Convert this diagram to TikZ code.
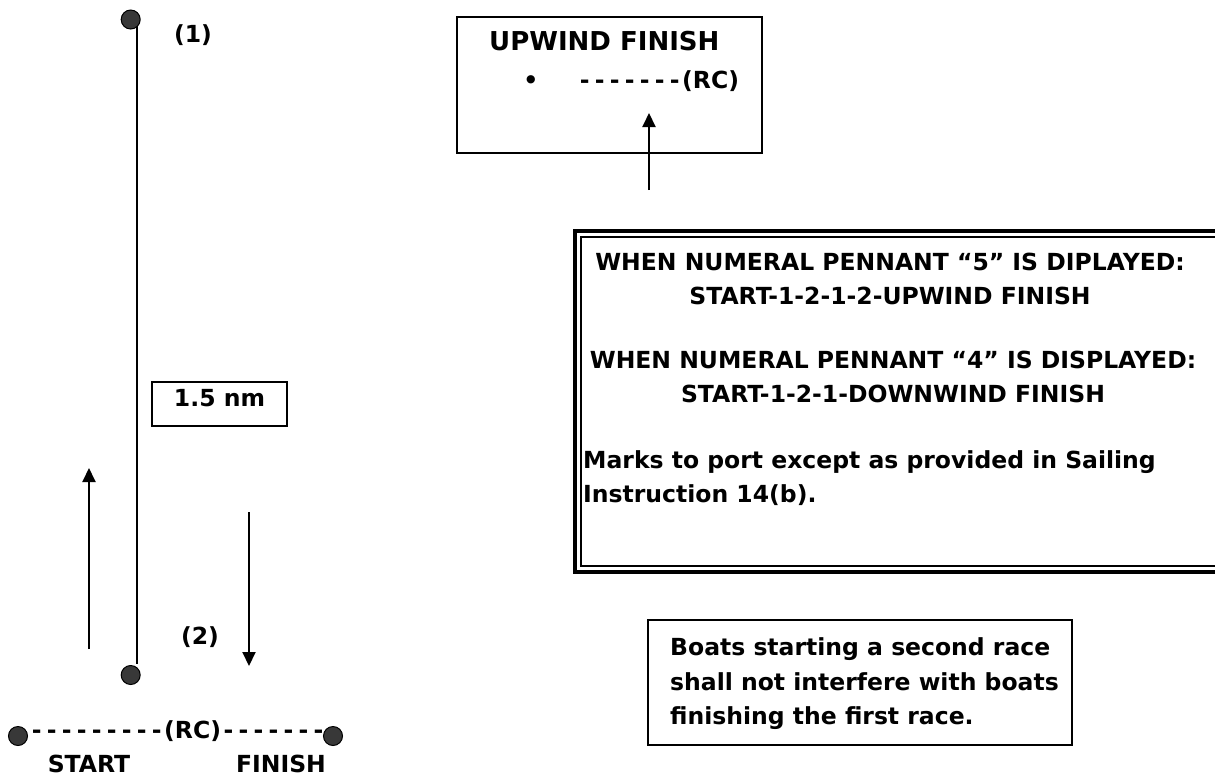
\documentclass[tikz,border=0pt]{standalone}
\usepackage{fontspec}
\setmainfont{DejaVu Sans}
\usetikzlibrary{arrows.meta}
\newcommand\myhy{\makebox[15pt]{-}}
\begin{document}
\begin{tikzpicture}[x=1pt,y=-1pt,
  dot/.style={circle, draw=black, fill=black!78, line width=1pt, minimum size=19pt, inner sep=0pt},
  lbl/.style={inner sep=0pt, text height=0.75em, text depth=0.25em, font=\bfseries\fontsize{23.5}{28}\selectfont},
  big/.style={inner sep=0pt, text height=0.75em, text depth=0.25em, font=\bfseries\fontsize{26}{30}\selectfont},
  frame/.style={draw=black, line width=2pt, inner sep=0pt},
  arr/.style={line width=2pt, -{Triangle[length=14pt,width=13pt]}},
  course/.style={line width=2pt}]
\useasboundingbox (0,0) rectangle (1215,780);
% course line and marks
\coordinate (vtop) at (137,22);
\coordinate (vbot) at (137,664);
\draw[course] (vtop) -- (vbot);
\node[dot] (m1) at (130.7,19.5) {};
\node[dot] (m2) at (130.7,675) {};
\node[lbl] (n1) at (193,40) {(1)};
\node[lbl] (n2) at (200,642) {(2)};
\node[frame, line width=1.5pt, minimum width=135pt, minimum height=44pt, lbl] (dist) at (219.5,404) {1.5 nm};
% direction arrows
\coordinate (ua1) at (89,649);
\coordinate (ua2) at (89,468);
\draw[arr] (ua1) -- (ua2);
\coordinate (da1) at (249,512);
\coordinate (da2) at (249,666);
\draw[arr] (da1) -- (da2);
% start / finish line
\node[dot] (sd) at (18,736) {};
\node[lbl, anchor=west] (rc) at (29,736) {\myhy\myhy\myhy\myhy\myhy\myhy\myhy\myhy\myhy(RC)\myhy\myhy\myhy\myhy\myhy\myhy\myhy};
\node[dot] (fd) at (333,736) {};
\node[lbl] (st) at (89,770) {START};
\node[lbl] (fi) at (281,770) {FINISH};
% upwind finish box
\node[frame, minimum width=305pt, minimum height=136pt] (ubox) at (609.5,85) {};
\node[big, anchor=west] (uf) at (489,48) {UPWIND FINISH};
\node[lbl] (bul) at (531,86) {•};
\node[lbl, anchor=west] (urc) at (577,86) {\myhy\myhy\myhy\myhy\myhy\myhy\myhy(RC)};
\coordinate (fa1) at (649,190);
\coordinate (fa2) at (649,113);
\draw[arr] (fa1) -- (fa2);
% instruction box (double frame)
\draw[line width=3.5pt] (575,231) -- (1240,231) -- (1240,572) -- (575,572) -- cycle;
\draw[line width=1.5pt] (581,237) -- (1240,237) -- (1240,566) -- (581,566) -- cycle;
\node[lbl] (l1) at (890,268) {WHEN NUMERAL PENNANT “5” IS DIPLAYED:};
\node[lbl] (l2) at (890,302) {START-1-2-1-2-UPWIND FINISH};
\node[lbl] (l3) at (893,366) {WHEN NUMERAL PENNANT “4” IS DISPLAYED:};
\node[lbl] (l4) at (893,400) {START-1-2-1-DOWNWIND FINISH};
\node[lbl, anchor=west] (l5) at (583,466) {Marks to port except as provided in Sailing};
\node[lbl, anchor=west] (l6) at (583,500) {Instruction 14(b).};
% note box
\node[frame, minimum width=424pt, minimum height=125pt] (note) at (860,682.5) {};
\node[lbl, anchor=west] (b1) at (670,653) {Boats starting a second race};
\node[lbl, anchor=west] (b2) at (670,688) {shall not interfere with boats};
\node[lbl, anchor=west] (b3) at (670,722) {finishing the first race.};
\end{tikzpicture}
\end{document}
